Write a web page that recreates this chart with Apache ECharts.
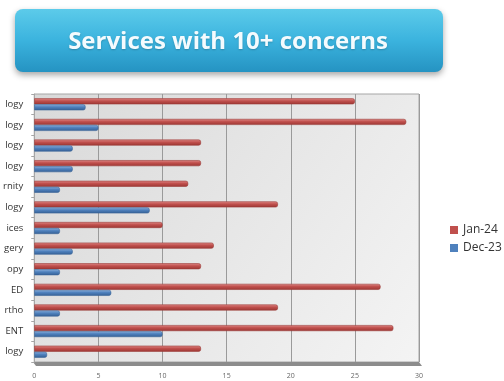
<!DOCTYPE html>
<html>
<head>
<meta charset="utf-8">
<script src="https://cdn.jsdelivr.net/npm/echarts@6/dist/echarts.min.js"></script>
<style>
  html, body { margin: 0; padding: 0; background: #ffffff; }
  #chart { width: 504px; height: 381px; }
</style>
</head>
<body>
<div id="chart"></div>
<script>
// Service names, top to bottom
const services = ['logy', 'logy', 'logy', 'logy', 'rnity', 'logy', 'ices', 'gery', 'opy', 'ED', 'rtho', 'ENT', 'logy'];
// Concern counts per month
const jan24 = [25, 29, 13, 13, 12, 19, 10, 14, 13, 27, 19, 28, 13];
const dec23 = [4, 5, 3, 3, 2, 9, 2, 3, 2, 6, 2, 10, 1];
const seriesNames = ['Jan-24', 'Dec-23'];
const titleText = 'Services with 10+ concerns';

const chart = echarts.init(document.getElementById('chart'), null, { renderer: 'canvas' });

function barFill(light, mid, dark) {
  return new echarts.graphic.LinearGradient(0, 0, 0, 1, [
    { offset: 0, color: light },
    { offset: 0.45, color: mid },
    { offset: 1, color: dark }
  ]);
}

chart.setOption({
  animation: false,
  backgroundColor: '#ffffff',
  graphic: [
    {
      type: 'rect',
      shape: { x: 15, y: 9, width: 428, height: 63, r: 8 },
      style: {
        fill: new echarts.graphic.LinearGradient(0, 0, 0, 1, [
          { offset: 0, color: '#5ccbea' },
          { offset: 0.5, color: '#3bb3de' },
          { offset: 1, color: '#2593c2' }
        ]),
        shadowBlur: 6,
        shadowOffsetY: 3,
        shadowColor: 'rgba(0,0,0,0.35)'
      },
      z: 1
    },
    {
      type: 'text',
      x: 228,
      y: 42,
      style: {
        text: titleText,
        fill: '#f4fbfe',
        font: 'bold 24px "Open Sans", Lato, sans-serif',
        align: 'center',
        verticalAlign: 'middle',
        textShadowColor: 'rgba(0,0,0,0.2)',
        textShadowBlur: 2,
        textShadowOffsetY: 1
      },
      z: 2
    },
    {
      // floor of the plot box
      type: 'polygon',
      shape: { points: [[33, 362], [419, 362], [422, 366], [36, 366]] },
      style: { fill: '#8c8c8c' },
      z: 0
    }
  ],
  legend: {
    orient: 'vertical',
    left: 445,
    top: 219,
    itemWidth: 8,
    itemHeight: 8,
    itemGap: 6,
    icon: 'rect',
    textStyle: { color: '#333333', fontSize: 12, fontFamily: 'Open Sans, sans-serif' },
    data: [
      { name: seriesNames[0], itemStyle: { color: '#c0504d', borderWidth: 0, borderColor: 'transparent' } },
      { name: seriesNames[1], itemStyle: { color: '#4f81bd', borderWidth: 0, borderColor: 'transparent' } }
    ]
  },
  grid: {
    left: 33,
    right: 85,
    top: 94,
    bottom: 19,
    show: true,
    backgroundColor: new echarts.graphic.LinearGradient(0, 0, 1, 1, [
      { offset: 0, color: '#d9d9d9' },
      { offset: 1, color: '#f4f4f4' }
    ]),
    borderColor: '#a6a6a6',
    borderWidth: 1
  },
  xAxis: {
    type: 'value',
    min: 0,
    max: 30,
    interval: 5,
    axisLine: { show: false },
    axisTick: { show: false },
    splitLine: { show: true, lineStyle: { color: '#9a9a9a', width: 1 } },
    axisLabel: { color: '#666666', fontSize: 7, margin: 10, fontFamily: 'Open Sans, sans-serif' }
  },
  yAxis: {
    type: 'category',
    inverse: true,
    data: services,
    axisLine: { show: true, lineStyle: { color: '#a6a6a6' } },
    axisTick: { show: true, length: 3, lineStyle: { color: '#a6a6a6' } },
    axisLabel: { color: '#333333', fontSize: 9.5, margin: 11, fontFamily: 'Open Sans, sans-serif' }
  },
  series: [
    {
      name: seriesNames[0],
      type: 'bar',
      data: jan24,
      barWidth: 6,
      barGap: '0%',
      itemStyle: {
        color: barFill('#e08a88', '#c0504d', '#9c3633'),
        borderColor: '#9a3b38',
        borderWidth: 0.6,
        borderRadius: [0, 2, 2, 0]
      }
    },
    {
      name: seriesNames[1],
      type: 'bar',
      data: dec23,
      barWidth: 6,
      barGap: '0%',
      itemStyle: {
        color: barFill('#8fb2dd', '#4f81bd', '#345f94'),
        borderColor: '#3a6599',
        borderWidth: 0.6,
        borderRadius: [0, 2, 2, 0]
      }
    }
  ]
});
</script>
</body>
</html>
